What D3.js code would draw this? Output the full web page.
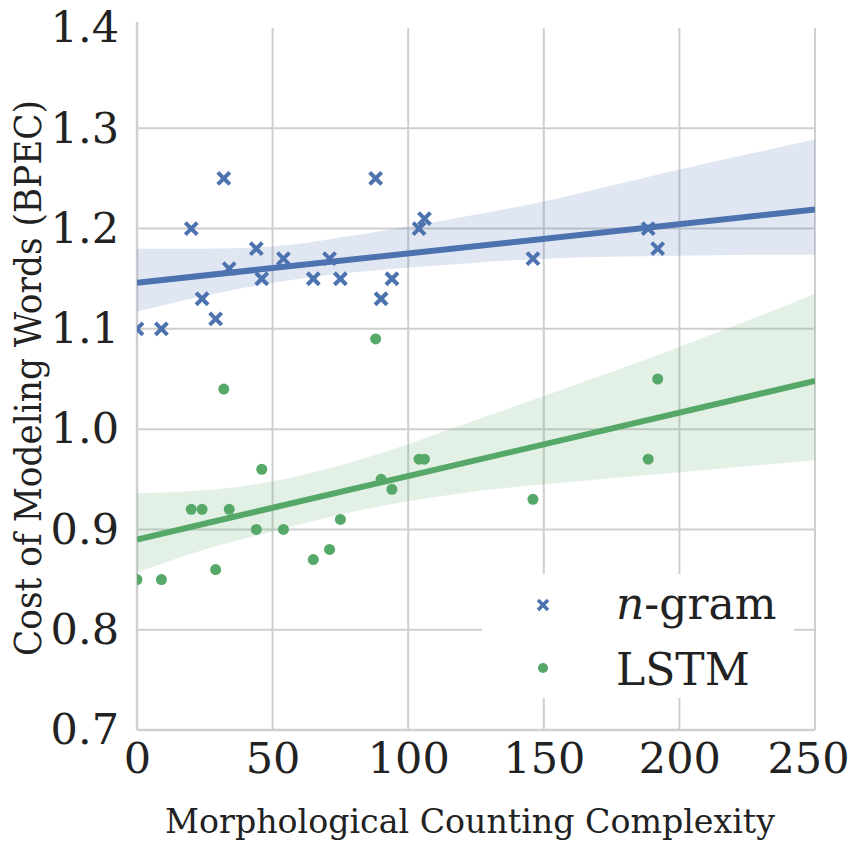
<!DOCTYPE html>
<html>
<head>
<meta charset="utf-8">
<script src="https://cdn.jsdelivr.net/npm/d3@7"></script>
<style>
  body { margin: 0; background: #fff; }
  svg { display: block; }
</style>
</head>
<body>
<svg id="chart" width="851" height="843"></svg>
<script>
// --- data ---
const ngramX = [0, 9, 20, 32, 24, 29, 34, 44, 46, 54, 65, 71, 75, 88, 90, 94, 104, 106, 146, 188.5, 192];
const ngramY = [1.10, 1.10, 1.20, 1.25, 1.13, 1.11, 1.16, 1.18, 1.15, 1.17, 1.15, 1.17, 1.15, 1.25, 1.13, 1.15, 1.20, 1.21, 1.17, 1.20, 1.18];
const lstmX = [0, 9, 20, 32, 24, 29, 34, 44, 46, 54, 65, 71, 75, 88, 90, 94, 104, 106, 146, 188.5, 192];
const lstmY = [0.85, 0.85, 0.92, 1.04, 0.92, 0.86, 0.92, 0.90, 0.96, 0.90, 0.87, 0.88, 0.91, 1.09, 0.95, 0.94, 0.97, 0.97, 0.93, 0.97, 1.05];

// regression lines (ends) and confidence bands
const fitX = [0, 250];
const ngramFit = [1.146, 1.219];
const lstmFit = [0.890, 1.048];
const bandX = [0, 25, 50, 75, 100, 125, 150, 175, 200, 225, 250];
const ngramUpper = [1.180, 1.180, 1.182, 1.191, 1.202, 1.214, 1.227, 1.243, 1.259, 1.274, 1.289];
const ngramLower = [1.117, 1.133, 1.146, 1.155, 1.161, 1.166, 1.170, 1.172, 1.173, 1.174, 1.174];
const lstmUpper = [0.936, 0.939, 0.948, 0.964, 0.985, 1.009, 1.033, 1.057, 1.082, 1.108, 1.135];
const lstmLower = [0.857, 0.880, 0.898, 0.915, 0.928, 0.938, 0.945, 0.951, 0.957, 0.963, 0.969];

const xTicks = [0, 50, 100, 150, 200, 250];
const yTicks = [0.7, 0.8, 0.9, 1.0, 1.1, 1.2, 1.3, 1.4];

const blue = "#4C72B0";
const green = "#55A868";
const gridColor = "#cfcfcf";
const serif = "'DejaVu Serif', 'Liberation Serif', serif";

const svg = d3.select("#chart");
const x = d3.scaleLinear().domain([0, 250]).range([137, 815]);
const y = d3.scaleLinear().domain([0.7, 1.4]).range([730, 28]);

svg.append("clipPath").attr("id", "plotclip")
    .append("rect")
    .attr("x", x(0)).attr("y", y(1.4))
    .attr("width", x(250) - x(0)).attr("height", y(0.7) - y(1.4));

// grid
const grid = svg.append("g");
grid.selectAll("line.gx").data(xTicks.slice(1)).enter().append("line")
    .attr("x1", d => x(d)).attr("x2", d => x(d))
    .attr("y1", y(1.4)).attr("y2", y(0.7))
    .attr("stroke", gridColor).attr("stroke-width", 2);
grid.selectAll("line.gy").data(yTicks.slice(1, -1)).enter().append("line")
    .attr("x1", x(0)).attr("x2", x(250))
    .attr("y1", d => y(d)).attr("y2", d => y(d))
    .attr("stroke", gridColor).attr("stroke-width", 2);

// spines
svg.append("line").attr("x1", x(0)).attr("x2", x(0)).attr("y1", y(1.4) - 6).attr("y2", y(0.7))
    .attr("stroke", gridColor).attr("stroke-width", 2.5);
svg.append("line").attr("x1", x(0)).attr("x2", x(250)).attr("y1", y(0.7)).attr("y2", y(0.7))
    .attr("stroke", gridColor).attr("stroke-width", 2.5);

const plot = svg.append("g").attr("clip-path", "url(#plotclip)");

// confidence bands
const area = d3.area().curve(d3.curveMonotoneX)
    .x(d => x(d[0])).y0(d => y(d[1])).y1(d => y(d[2]));
plot.append("path")
    .attr("d", area(bandX.map((v, i) => [v, ngramLower[i], ngramUpper[i]])))
    .attr("fill", blue).attr("fill-opacity", 0.17);
plot.append("path")
    .attr("d", area(bandX.map((v, i) => [v, lstmLower[i], lstmUpper[i]])))
    .attr("fill", green).attr("fill-opacity", 0.17);

// points
const crossSize = 6;
plot.selectAll("path.ngram").data(ngramX.map((v, i) => [v, ngramY[i]])).enter().append("path")
    .attr("d", d => {
        const cx = x(d[0]), cy = y(d[1]);
        return `M${cx - crossSize},${cy - crossSize}L${cx + crossSize},${cy + crossSize}M${cx - crossSize},${cy + crossSize}L${cx + crossSize},${cy - crossSize}`;
    })
    .attr("stroke", blue).attr("stroke-width", 4);
plot.selectAll("circle.lstm").data(lstmX.map((v, i) => [v, lstmY[i]])).enter().append("circle")
    .attr("cx", d => x(d[0])).attr("cy", d => y(d[1])).attr("r", 5.5)
    .attr("fill", green);

// regression lines
const line = d3.line().x(d => x(d[0])).y(d => y(d[1]));
plot.append("path").attr("d", line(fitX.map((v, i) => [v, ngramFit[i]])))
    .attr("stroke", blue).attr("stroke-width", 6).attr("fill", "none");
plot.append("path").attr("d", line(fitX.map((v, i) => [v, lstmFit[i]])))
    .attr("stroke", green).attr("stroke-width", 6).attr("fill", "none");

// axes (tick labels only)
const xAxis = svg.append("g").attr("transform", `translate(0,${y(0.7)})`)
    .call(d3.axisBottom(x).tickValues(xTicks).tickSize(0).tickPadding(12).tickFormat(d3.format("d")));
xAxis.select(".domain").remove();
xAxis.selectAll("text").attr("fill", "#222")
    .style("font-family", serif).style("font-size", "43px");
// last label would run past the right edge, pull it in
xAxis.selectAll(".tick").filter(d => d === 250).select("text")
    .attr("text-anchor", "end").attr("x", 849 - x(250));

const yAxis = svg.append("g").attr("transform", `translate(${x(0)},0)`)
    .call(d3.axisLeft(y).tickValues(yTicks).tickSize(0).tickPadding(18).tickFormat(d3.format(".1f")));
yAxis.select(".domain").remove();
yAxis.selectAll("text").attr("fill", "#222")
    .style("font-family", serif).style("font-size", "43px");

// legend
const leg = svg.append("g");
leg.append("rect").attr("x", 482).attr("y", 574).attr("width", 312).attr("height", 124)
    .attr("fill", "#fff");
const lx = 543, ly1 = 605, ly2 = 668;
leg.append("path")
    .attr("d", `M${lx - 5},${ly1 - 5}L${lx + 5},${ly1 + 5}M${lx - 5},${ly1 + 5}L${lx + 5},${ly1 - 5}`)
    .attr("stroke", blue).attr("stroke-width", 3.5);
leg.append("circle").attr("cx", lx).attr("cy", ly2).attr("r", 5).attr("fill", green);
const t1 = leg.append("text").attr("x", 616).attr("y", 619)
    .style("font-family", serif).style("font-size", "44px").attr("fill", "#222");
t1.append("tspan").attr("font-style", "italic").text("n");
t1.append("tspan").text("-gram");
leg.append("text").attr("x", 616).attr("y", 685)
    .style("font-family", serif).style("font-size", "44px").attr("fill", "#222")
    .text("LSTM");

// axis titles
svg.append("text")
    .attr("x", 470).attr("y", 833)
    .attr("text-anchor", "middle")
    .style("font-family", serif).style("font-size", "33px").attr("fill", "#222")
    .attr("textLength", 610).attr("lengthAdjust", "spacingAndGlyphs")
    .text("Morphological Counting Complexity");

svg.append("text")
    .attr("transform", "translate(41,378) rotate(-90)")
    .attr("text-anchor", "middle")
    .style("font-family", serif).style("font-size", "38px").attr("fill", "#222")
    .attr("textLength", 556).attr("lengthAdjust", "spacingAndGlyphs")
    .text("Cost of Modeling Words (BPEC)");
</script>
</body>
</html>
